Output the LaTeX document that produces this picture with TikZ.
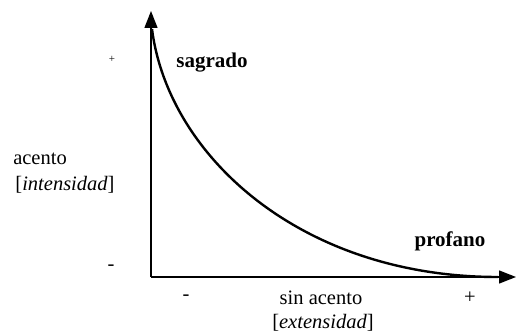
\documentclass[tikz,border=0pt]{standalone}
\usepackage{fontspec}
\setmainfont{Liberation Serif}
\usetikzlibrary{arrows.meta, math}

\begin{document}
\begin{tikzpicture}[x=1pt, y=1pt,
  every node/.style={font=\fontsize{20.5}{24}\selectfont, inner sep=0pt},
  tick/.style={font=\fontsize{20.5}{24}\selectfont},
  small/.style={font=\fontsize{11}{13}\selectfont},
  label/.style={font=\fontsize{21}{24}\selectfont\bfseries}]
\tikzmath{
\ox=151;
\oy=58;
}
\useasboundingbox (0,0) rectangle (516,335);

 \coordinate (O) at (\ox,\oy);
 \coordinate (Ytip) at (\ox,324);
 \coordinate (Xtip) at (516,\oy);
 \coordinate (S) at (152,306);
 \coordinate (E) at (498,\oy);

 % axes
 \draw[-{Triangle[length=17pt,width=13pt]}, line width=1.4pt] (O) -- (Ytip);
 \draw[-{Triangle[length=17pt,width=13pt]}, line width=1.4pt] (O) -- (Xtip);

 % curve
 \draw[line width=2.4pt] (S) .. controls (168,180) and (300,\oy) .. (E);

 \node[label] (sagrado) at (212,272) {sagrado};
 \node[label] (profano) at (450,94) {profano};

 \node[small] (yplus) at (112,276) {+};
 \node[tick] (yminus) at (111,67) {-};
 \node (acento) at (40,176) {acento};
 \node (intens) at (65,150) {[\textit{intensidad}]};

 \node[tick] (xminus) at (186,37) {-};
 \node (sinac) at (321,37) {sin acento};
 \node (extens) at (323,12) {[\textit{extensidad}]};
 \node[tick] (xplus) at (470,37) {+};

\end{tikzpicture}
\end{document}
